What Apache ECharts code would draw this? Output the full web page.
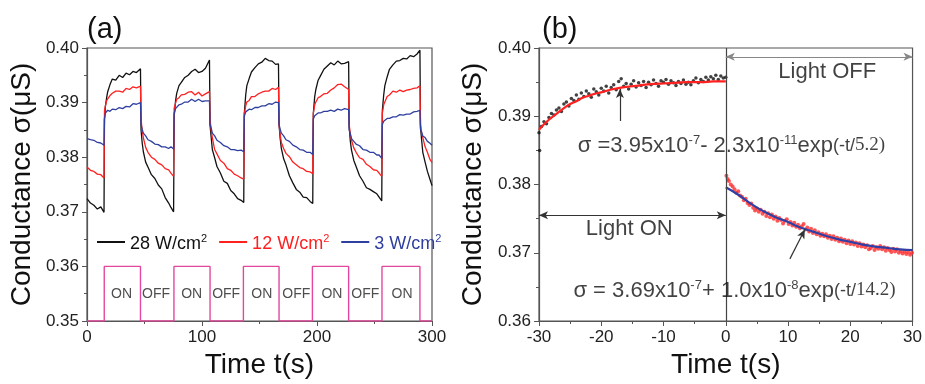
<!DOCTYPE html>
<html>
<head>
<meta charset="utf-8">
<script src="https://cdn.jsdelivr.net/npm/echarts@6/dist/echarts.min.js"></script>
<style>
html, body { margin: 0; padding: 0; background: #fff; }
#chart { width: 925px; height: 384px; }
</style>
</head>
<body>
<div id="chart"></div>
<script>
// ---- panel (a): response to light switched on and off ----
var timeA = [
    0, 3, 6, 9, 12, 14.8,
    15.2, 16, 17, 18, 20, 22, 25, 28, 31, 34, 37, 40, 43, 46.5,
    47, 48, 49, 51, 53, 56, 59, 62, 65, 68, 71, 73, 75.3,
    75.8, 77, 78, 80, 82, 85, 88, 91, 94, 97, 100, 103, 106.5,
    107, 108, 109, 111, 113, 116, 119, 122, 125, 128, 131, 134, 136.3,
    136.8, 138, 139, 141, 143, 146, 149, 152, 155, 158, 161, 164, 166.5,
    167, 168, 169, 171, 173, 176, 179, 182, 185, 188, 191, 194, 196.3,
    196.8, 198, 199, 201, 203, 206, 209, 212, 215, 218, 221, 224, 227.5,
    228, 229, 230, 232, 234, 237, 240, 243, 246, 249, 252, 254, 256.3,
    256.8, 258, 259, 261, 263, 266, 269, 272, 275, 278, 281, 284, 287, 289.5,
    290, 291, 292, 294, 296, 298, 300
];
var sigma28 = [
    0.3724, 0.3716, 0.3712, 0.3705, 0.3709, 0.3699,
    0.3870, 0.3893, 0.3908, 0.3920, 0.3933, 0.3943, 0.3941, 0.3950, 0.3946, 0.3954, 0.3951, 0.3957, 0.3955, 0.3962,
    0.3850, 0.3826, 0.3810, 0.3791, 0.3782, 0.3768, 0.3761, 0.3749, 0.3742, 0.3726, 0.3716, 0.3708, 0.3700,
    0.3875, 0.3903, 0.3917, 0.3931, 0.3937, 0.3946, 0.3950, 0.3957, 0.3961, 0.3955, 0.3957, 0.3963, 0.3978,
    0.3858, 0.3836, 0.3814, 0.3799, 0.3783, 0.3771, 0.3756, 0.3752, 0.3739, 0.3733, 0.3724, 0.3721, 0.3717,
    0.3880, 0.3914, 0.3931, 0.3944, 0.3956, 0.3964, 0.3971, 0.3974, 0.3981, 0.3977, 0.3976, 0.3970, 0.3971,
    0.3860, 0.3834, 0.3816, 0.3797, 0.3786, 0.3766, 0.3753, 0.3741, 0.3736, 0.3727, 0.3726, 0.3719, 0.3715,
    0.3880, 0.3911, 0.3924, 0.3941, 0.3949, 0.3961, 0.3967, 0.3973, 0.3969, 0.3976, 0.3971, 0.3972, 0.3975,
    0.3855, 0.3829, 0.3813, 0.3794, 0.3783, 0.3766, 0.3756, 0.3744, 0.3741, 0.3737, 0.3733, 0.3727, 0.3720,
    0.3885, 0.3914, 0.3931, 0.3947, 0.3961, 0.3969, 0.3976, 0.3977, 0.3981, 0.3980, 0.3986, 0.3984, 0.3989, 0.3996,
    0.3855, 0.3831, 0.3809, 0.3791, 0.3774, 0.3761, 0.3748
];
var sigma12 = [
    0.3782, 0.3776, 0.3774, 0.3769, 0.3768, 0.3762,
    0.3885, 0.3894, 0.3903, 0.3907, 0.3913, 0.3917, 0.3921, 0.3921, 0.3919, 0.3926, 0.3924, 0.3929, 0.3927, 0.3930,
    0.3870, 0.3848, 0.3836, 0.3818, 0.3809, 0.3800, 0.3796, 0.3789, 0.3786, 0.3779, 0.3777, 0.3771, 0.3765,
    0.3890, 0.3899, 0.3906, 0.3909, 0.3914, 0.3915, 0.3919, 0.3920, 0.3914, 0.3919, 0.3912, 0.3916, 0.3920,
    0.3870, 0.3849, 0.3836, 0.3814, 0.3806, 0.3794, 0.3789, 0.3779, 0.3776, 0.3769, 0.3766, 0.3762, 0.3760,
    0.3880, 0.3894, 0.3901, 0.3904, 0.3911, 0.3911, 0.3916, 0.3919, 0.3921, 0.3921, 0.3926, 0.3924, 0.3928,
    0.3860, 0.3841, 0.3827, 0.3816, 0.3807, 0.3801, 0.3791, 0.3786, 0.3781, 0.3779, 0.3774, 0.3773, 0.3770,
    0.3880, 0.3896, 0.3901, 0.3909, 0.3911, 0.3916, 0.3917, 0.3923, 0.3927, 0.3933, 0.3934, 0.3929, 0.3924,
    0.3860, 0.3841, 0.3831, 0.3817, 0.3809, 0.3799, 0.3796, 0.3787, 0.3783, 0.3777, 0.3776, 0.3771, 0.3765,
    0.3880, 0.3896, 0.3901, 0.3911, 0.3914, 0.3921, 0.3919, 0.3923, 0.3920, 0.3923, 0.3924, 0.3926, 0.3927, 0.3931,
    0.3860, 0.3844, 0.3836, 0.3819, 0.3809, 0.3797, 0.3790
];
var sigma3 = [
    0.3834, 0.3832, 0.3831, 0.3827, 0.3826, 0.3822,
    0.3870, 0.3881, 0.3882, 0.3886, 0.3884, 0.3888, 0.3887, 0.3891, 0.3889, 0.3893, 0.3892, 0.3898, 0.3897, 0.3900,
    0.3860, 0.3851, 0.3844, 0.3839, 0.3832, 0.3829, 0.3824, 0.3823, 0.3819, 0.3819, 0.3816, 0.3819, 0.3815,
    0.3880, 0.3889, 0.3891, 0.3896, 0.3897, 0.3901, 0.3901, 0.3906, 0.3902, 0.3906, 0.3902, 0.3903, 0.3903,
    0.3860, 0.3853, 0.3844, 0.3839, 0.3831, 0.3827, 0.3821, 0.3819, 0.3814, 0.3814, 0.3812, 0.3813, 0.3810,
    0.3875, 0.3883, 0.3884, 0.3888, 0.3887, 0.3891, 0.3891, 0.3894, 0.3894, 0.3898, 0.3897, 0.3901, 0.3900,
    0.3860, 0.3851, 0.3844, 0.3839, 0.3832, 0.3829, 0.3822, 0.3819, 0.3814, 0.3813, 0.3809, 0.3809, 0.3805,
    0.3870, 0.3876, 0.3877, 0.3881, 0.3881, 0.3884, 0.3884, 0.3886, 0.3884, 0.3888, 0.3886, 0.3889, 0.3887,
    0.3850, 0.3843, 0.3834, 0.3829, 0.3824, 0.3821, 0.3814, 0.3813, 0.3809, 0.3809, 0.3804, 0.3804, 0.3798,
    0.3860, 0.3866, 0.3867, 0.3871, 0.3871, 0.3874, 0.3874, 0.3878, 0.3877, 0.3879, 0.3879, 0.3883, 0.3884, 0.3886,
    0.3850, 0.3846, 0.3839, 0.3836, 0.3829, 0.3826, 0.3822
];
var seriesNamesA = ['28 W/cm2', '12 W/cm2', '3 W/cm2'];

// light switching (pink square wave)
var onStart = [15, 75.6, 136, 196, 256.5];
var onEnd = [46.5, 107, 167, 227.5, 289.5];
var waveLow = 0.35, waveHigh = 0.36;
var switchLabelTimes = [30, 60, 91, 121, 152, 182, 213, 242, 274];
var switchLabels = ['ON', 'OFF', 'ON', 'OFF', 'ON', 'OFF', 'ON', 'OFF', 'ON'];
var switchLabelLevel = 0.355;

// ---- panel (b): one switching cycle with fits ----
var onPoints = [
    [-29.9, 0.3850], [-30.0, 0.3876], [-29.6, 0.3885], [-29.2, 0.3892], [-28.8, 0.3889], [-28.4, 0.3898],
    [-28.0, 0.3904], [-27.6, 0.3902], [-27.2, 0.3909], [-26.8, 0.3912], [-26.4, 0.3907], [-26.0, 0.3918],
    [-25.6, 0.3921], [-25.2, 0.3915], [-24.8, 0.3926], [-24.4, 0.3923], [-24.0, 0.3931], [-23.6, 0.3925],
    [-23.2, 0.3934], [-22.8, 0.3929], [-22.4, 0.3937], [-22.0, 0.3933], [-21.6, 0.3928], [-21.2, 0.3940],
    [-20.8, 0.3936], [-20.4, 0.3931], [-20.0, 0.3941], [-19.6, 0.3937], [-19.2, 0.3944], [-18.8, 0.3934],
    [-18.4, 0.3942], [-18.0, 0.3946], [-17.6, 0.3939], [-17.2, 0.3951], [-16.8, 0.3955], [-16.4, 0.3944],
    [-16.0, 0.3948], [-15.6, 0.3940], [-15.2, 0.3947], [-14.8, 0.3952], [-14.4, 0.3943], [-14.0, 0.3949],
    [-13.6, 0.3945], [-13.2, 0.3951], [-12.8, 0.3942], [-12.4, 0.3950], [-12.0, 0.3946], [-11.6, 0.3953],
    [-11.2, 0.3948], [-10.8, 0.3944], [-10.4, 0.3952], [-10.0, 0.3950], [-9.6, 0.3954], [-9.2, 0.3947],
    [-8.8, 0.3952], [-8.4, 0.3949], [-8.0, 0.3945], [-7.6, 0.3951], [-7.2, 0.3948], [-6.8, 0.3953],
    [-6.4, 0.3947], [-6.0, 0.3950], [-5.6, 0.3946], [-5.2, 0.3952], [-4.8, 0.3956], [-4.4, 0.3949],
    [-4.0, 0.3954], [-3.6, 0.3951], [-3.2, 0.3957], [-2.8, 0.3953], [-2.4, 0.3958], [-2.0, 0.3955],
    [-1.6, 0.3960], [-1.2, 0.3954], [-0.8, 0.3959], [-0.4, 0.3956], [0.0, 0.3957]
];
var offPoints = [
    [0.1, 0.3813], [0.3, 0.3808], [0.5, 0.3805], [0.8, 0.3800], [1.1, 0.3797], [1.4, 0.3793], [1.7, 0.3788],
    [2.0, 0.3790], [2.3, 0.3784], [2.6, 0.3782], [2.9, 0.3777], [3.2, 0.3779], [3.5, 0.3773], [3.8, 0.3770],
    [4.1, 0.3772], [4.4, 0.3766], [4.7, 0.3762], [5.0, 0.3765], [5.3, 0.3760], [5.6, 0.3763], [5.9, 0.3757],
    [6.2, 0.3760], [6.5, 0.3754], [6.8, 0.3758], [7.1, 0.3752], [7.4, 0.3756], [7.7, 0.3750], [8.0, 0.3753],
    [8.3, 0.3747], [8.6, 0.3751], [8.9, 0.3748], [9.2, 0.3743], [9.5, 0.3747], [9.8, 0.3749], [10.1, 0.3742],
    [10.4, 0.3745], [10.7, 0.3740], [11.0, 0.3744], [11.3, 0.3738], [11.6, 0.3741], [11.9, 0.3736], [12.2, 0.3739],
    [12.5, 0.3742], [12.8, 0.3734], [13.1, 0.3737], [13.4, 0.3731], [13.7, 0.3735], [14.0, 0.3729], [14.3, 0.3733],
    [14.6, 0.3727], [14.9, 0.3730], [15.2, 0.3725], [15.5, 0.3728], [15.8, 0.3724], [16.1, 0.3727], [16.4, 0.3722],
    [16.7, 0.3725], [17.0, 0.3720], [17.3, 0.3724], [17.6, 0.3719], [17.9, 0.3722], [18.2, 0.3717], [18.5, 0.3721],
    [18.8, 0.3716], [19.1, 0.3719], [19.4, 0.3714], [19.7, 0.3718], [20.0, 0.3713], [20.3, 0.3717], [20.6, 0.3712],
    [20.9, 0.3715], [21.2, 0.3710], [21.5, 0.3714], [21.8, 0.3709], [22.1, 0.3712], [22.4, 0.3708], [22.7, 0.3711],
    [23.0, 0.3705], [23.3, 0.3707], [23.6, 0.3710], [23.9, 0.3704], [24.2, 0.3708], [24.5, 0.3706], [24.8, 0.3710],
    [25.1, 0.3705], [25.4, 0.3708], [25.7, 0.3703], [26.0, 0.3707], [26.3, 0.3704], [26.6, 0.3701], [26.9, 0.3706],
    [27.2, 0.3702], [27.5, 0.3705], [27.8, 0.3700], [28.1, 0.3703], [28.4, 0.3699], [28.7, 0.3702], [29.0, 0.3698],
    [29.3, 0.3701], [29.6, 0.3697], [29.9, 0.3700]
];
// fitted curves
var fitOnTime = [-30, -29, -28, -27, -26, -25, -24, -23, -22, -21, -20, -18, -16, -14, -12, -10, -8, -6, -4, -2, 0];
var fitOnValue = [0.3880, 0.3890, 0.3898, 0.3905, 0.3912, 0.3918, 0.3922, 0.3927, 0.3930, 0.3933, 0.3935,
    0.3940, 0.3943, 0.3945, 0.3947, 0.3948, 0.3949, 0.3950, 0.3950, 0.3951, 0.3951];
var fitOffTime = [0, 2, 4, 6, 8, 10, 12, 14, 16, 18, 20, 22, 24, 26, 28, 30];
var fitOffValue = [0.3796, 0.3785, 0.3772, 0.3761, 0.3752, 0.3745, 0.3737, 0.3731, 0.3725, 0.3720,
    0.3716, 0.3712, 0.3709, 0.3707, 0.3705, 0.3704];

// annotations of panel (b): [t, sigma, text]
var notesB = [
    [16.3, 0.3965, 'Light OFF'],
    [-15.5, 0.3735, 'Light ON'],
    [0.9, 0.3860, '{m|σ =3.95x10}{s|-7}{m|- 2.3x10}{s|-11}{m|exp}{p|(-t/}{f|5.2)}'],
    [1.4, 0.3647, '{m|σ = 3.69x10}{s|-7}{m|+ 1.0x10}{s|-8}{m|exp}{p|(-t/}{f|14.2)}']
];
var offArrowLevel = 0.3987, onArrowLevel = 0.3755;

function zip(xs, ys) {
    return xs.map(function (x, i) { return [x, ys[i]]; });
}

var wave = [[0, waveLow]];
onStart.forEach(function (s, i) {
    wave.push([s, waveLow], [s, waveHigh], [onEnd[i], waveHigh], [onEnd[i], waveLow]);
});
wave.push([300, waveLow]);

var FONT = 'Liberation Sans, Arial, sans-serif';
var AXIS_COLOR = '#555';
function valueAxis(idx, min, max, interval, digits, extra) {
    var ax = {
        type: 'value',
        gridIndex: idx,
        min: min,
        max: max,
        interval: interval,
        axisLine: { show: true, onZero: false, lineStyle: { color: AXIS_COLOR, width: 1.2 } },
        axisTick: { show: true, length: 5, lineStyle: { color: AXIS_COLOR } },
        minorTick: { show: true, splitNumber: 2, length: 3, lineStyle: { color: AXIS_COLOR } },
        splitLine: { show: false },
        axisLabel: {
            color: '#222', fontSize: 17, fontFamily: FONT, margin: 8,
            formatter: function (v) { return v.toFixed(digits); }
        },
        nameLocation: 'middle',
        nameTextStyle: { color: '#111', fontSize: 28, fontFamily: FONT }
    };
    for (var k in extra) ax[k] = extra[k];
    return ax;
}

var chart = echarts.init(document.getElementById('chart'));
var titleStyle = { fontSize: 29, fontWeight: 'normal', fontFamily: FONT, color: '#111' };
var noteRich = {
    m: { fontSize: 22, fontFamily: FONT, color: '#111', lineHeight: 26, verticalAlign: 'bottom' },
    s: { fontSize: 13, fontFamily: FONT, color: '#111', verticalAlign: 'bottom', padding: [0, 0, 10, 0] },
    p: { fontSize: 18, fontFamily: FONT, color: '#111', verticalAlign: 'bottom', padding: [0, 0, 2, 0] },
    f: { fontSize: 19, fontFamily: 'Liberation Serif', color: '#111', verticalAlign: 'bottom', padding: [0, 0, 2, 0] }
};

chart.setOption({
    animation: false,
    backgroundColor: '#fff',
    title: [
        { text: '(a)', left: 82, top: 10, textStyle: titleStyle },
        { text: '(b)', left: 537, top: 10, textStyle: titleStyle }
    ],
    grid: [
        { left: 87, top: 48, width: 345, height: 278, show: true, borderColor: AXIS_COLOR, borderWidth: 1.2 },
        { left: 539, top: 48, width: 376, height: 278, show: true, borderColor: AXIS_COLOR, borderWidth: 1.2 }
    ],
    xAxis: [
        valueAxis(0, 0, 300, 100, 0, { name: 'Time t(s)', nameGap: 30 }),
        valueAxis(1, -30, 30, 10, 0, { name: 'Time t(s)', nameGap: 30 })
    ],
    yAxis: [
        valueAxis(0, 0.35, 0.40, 0.01, 2, { name: 'Conductance σ(μS)', nameGap: 51 }),
        valueAxis(1, 0.36, 0.40, 0.01, 2, { name: 'Conductance σ(μS)', nameGap: 52 })
    ],
    legend: {
        left: 92,
        top: 228,
        icon: 'rect',
        itemWidth: 28,
        itemHeight: 2,
        itemGap: 12,
        textStyle: {
            fontSize: 18, fontFamily: FONT,
            rich: {
                n: { fontSize: 18, fontFamily: FONT, lineHeight: 22, verticalAlign: 'bottom' },
                s: { fontSize: 11, fontFamily: FONT, verticalAlign: 'bottom', padding: [0, 0, 9, 0] }
            }
        },
        formatter: function (name) { return '{n|' + name.replace(/2$/, '}{s|2}'); },
        data: [
            { name: seriesNamesA[0], textStyle: { color: '#111' } },
            { name: seriesNamesA[1], textStyle: { color: '#ff2020' } },
            { name: seriesNamesA[2], textStyle: { color: '#2f3f9f' } }
        ]
    },
    series: [
        {
            name: seriesNamesA[0], type: 'line', xAxisIndex: 0, yAxisIndex: 0,
            data: zip(timeA, sigma28), showSymbol: false, symbol: 'none',
            lineStyle: { color: '#111', width: 1.3 }, itemStyle: { color: '#111' }
        },
        {
            name: seriesNamesA[1], type: 'line', xAxisIndex: 0, yAxisIndex: 0,
            data: zip(timeA, sigma12), showSymbol: false, symbol: 'none',
            lineStyle: { color: '#ff2020', width: 1.3 }, itemStyle: { color: '#ff2020' }
        },
        {
            name: seriesNamesA[2], type: 'line', xAxisIndex: 0, yAxisIndex: 0,
            data: zip(timeA, sigma3), showSymbol: false, symbol: 'none',
            lineStyle: { color: '#2f3f9f', width: 1.3 }, itemStyle: { color: '#2f3f9f' }
        },
        {
            name: 'light', type: 'line', xAxisIndex: 0, yAxisIndex: 0,
            data: wave, symbol: 'none', lineStyle: { color: '#e4489e', width: 1.4 }
        },
        {
            name: 'switch', type: 'scatter', xAxisIndex: 0, yAxisIndex: 0, symbolSize: 0,
            data: switchLabelTimes.map(function (t, i) { return [t, switchLabelLevel, switchLabels[i]]; }),
            label: {
                show: true, position: 'inside', color: '#222', fontSize: 14, fontFamily: FONT,
                formatter: function (p) { return p.data[2]; }
            }
        },
        {
            name: 'on data', type: 'scatter', xAxisIndex: 1, yAxisIndex: 1,
            data: onPoints, symbolSize: 3.5, itemStyle: { color: '#111' }
        },
        {
            name: 'on fit', type: 'line', xAxisIndex: 1, yAxisIndex: 1,
            data: zip(fitOnTime, fitOnValue), smooth: true, symbol: 'none',
            lineStyle: { color: '#ff2020', width: 2.2 }, z: 3,
            markLine: {
                silent: true, symbol: 'none', label: { show: false },
                lineStyle: { color: '#444', width: 1.2, type: 'solid' },
                data: [{ xAxis: 0 }]
            }
        },
        {
            name: 'off data', type: 'scatter', xAxisIndex: 1, yAxisIndex: 1,
            data: offPoints, symbolSize: 4, itemStyle: { color: '#ff2a2a' }
        },
        {
            name: 'off fit', type: 'line', xAxisIndex: 1, yAxisIndex: 1,
            data: zip(fitOffTime, fitOffValue), smooth: true, symbol: 'none',
            lineStyle: { color: '#2f3fa5', width: 2.2 }, z: 3
        },
        {
            name: 'notes', type: 'scatter', xAxisIndex: 1, yAxisIndex: 1, symbolSize: 0, z: 5,
            data: notesB,
            label: {
                show: true, position: 'inside', color: '#111', fontSize: 22, fontFamily: FONT,
                rich: noteRich,
                formatter: function (p) { return p.data[2]; }
            },
            markLine: {
                silent: true, symbol: ['arrow', 'arrow'], symbolSize: [6, 9], label: { show: false },
                lineStyle: { color: '#333', width: 1.2, type: 'solid' },
                data: [
                    [{ coord: [0, offArrowLevel], lineStyle: { color: '#888' } }, { coord: [30, offArrowLevel] }],
                    [{ coord: [-30, onArrowLevel] }, { coord: [0, onArrowLevel] }],
                    [{ coord: [-17, 0.3893], symbol: 'none' }, { coord: [-17, 0.3940], symbol: 'arrow' }],
                    [{ coord: [10.3, 0.3691], symbol: 'none' }, { coord: [12.7, 0.3734], symbol: 'arrow' }]
                ]
            }
        }
    ]
});
</script>
</body>
</html>
